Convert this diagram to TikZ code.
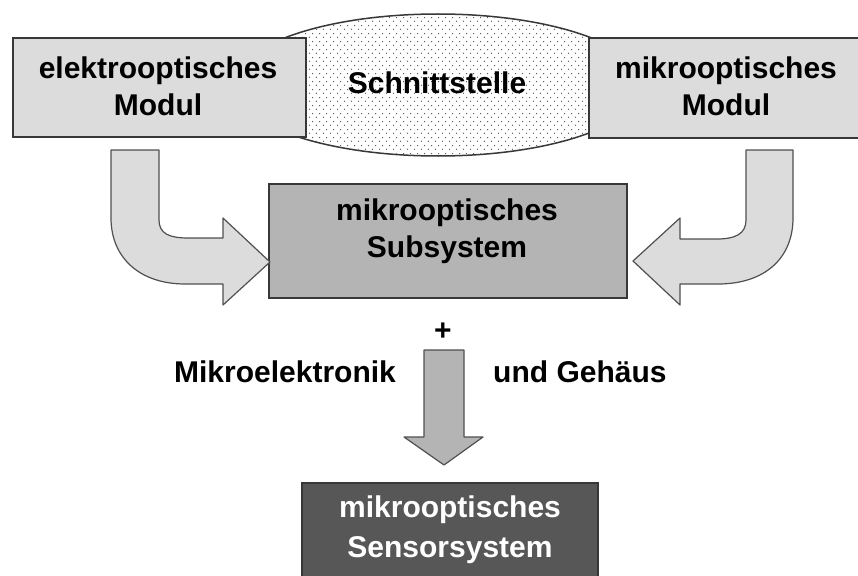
\documentclass[tikz,border=0pt]{standalone}
\usepackage{fontspec}
\setmainfont{Liberation Sans}
\usetikzlibrary{patterns,shapes.geometric}
\pgfdeclarepatternformonly{sparsedots}{\pgfqpoint{0pt}{0pt}}{\pgfqpoint{7pt}{8pt}}{\pgfqpoint{7pt}{8pt}}{%
  \pgfpathcircle{\pgfqpoint{1.75pt}{2pt}}{0.75pt}%
  \pgfpathcircle{\pgfqpoint{5.25pt}{6pt}}{0.75pt}%
  \pgfusepath{fill}}
\definecolor{lightfill}{HTML}{DCDCDC}
\definecolor{midfill}{HTML}{B4B4B4}
\definecolor{darkfill}{HTML}{575757}
\definecolor{edge}{HTML}{383838}
\definecolor{arrowedge}{HTML}{505050}
\begin{document}
\begin{tikzpicture}[x=1pt,y=-1pt,
  box/.style={draw=edge,line width=1.5pt,rectangle,inner sep=0pt},
  lbl/.style={font=\fontsize{30}{37}\selectfont\bfseries,align=center,inner sep=0pt},
  blockarrow/.style={draw=arrowedge,line width=1.2pt,line join=round},
]
\useasboundingbox (0,0) rectangle (858,575);
% interface ellipse (behind the modules)
\node[ellipse,draw=edge,line width=1.5pt,fill=white,
      minimum width=410pt,minimum height=142pt,inner sep=0pt] (iface) at (438,85) {};
\fill[pattern=sparsedots,pattern color=black!70] (iface.center) ellipse[x radius=204pt,y radius=70pt];
% modules
\node[box,fill=lightfill,minimum width=293pt,minimum height=99pt] (em) at (159.5,87.5) {};
\draw[edge,line width=1.5pt,fill=lightfill] (589,38) -- (862,38) -- (862,138) -- (589,138) -- cycle;
\node[lbl] (emt) at (158,86) {elektrooptisches\\Modul};
\node[lbl] (mmt) at (726,86) {mikrooptisches\\Modul};
\node[lbl] (ifacet) at (437,83) {Schnittstelle};
% subsystem
\node[box,fill=midfill,minimum width=358pt,minimum height=114pt] (sub) at (448,241) {};
\node[lbl] (subt) at (447,231) {mikrooptisches\\Subsystem};
% curved arrows
\filldraw[blockarrow,fill=lightfill] (111,150) -- (159,150) -- (159,220)
  .. controls (159,234) and (170,238) .. (188,238) -- (223,238) -- (223,218)
  -- (270,262) -- (223,305) -- (223,284) -- (185,284)
  .. controls (140,284) and (111,258) .. (111,218) -- cycle;
\filldraw[blockarrow,fill=lightfill] (793,150) -- (746,150) -- (746,220)
  .. controls (746,234) and (735,239) .. (717,239) -- (680,239) -- (680,218)
  -- (633,261) -- (680,305) -- (680,284) -- (718,284)
  .. controls (765,284) and (793,258) .. (793,218) -- cycle;
% plus and down arrow
\node[lbl] (plus) at (443,332) {+};
\filldraw[blockarrow,fill=midfill] (424,350) -- (464,350) -- (464,437) -- (483,437)
  -- (444,465) -- (404,437) -- (424,437) -- cycle;
\node[lbl] (mel) at (285,372) {Mikroelektronik};
\node[lbl,anchor=west] (geh) at (493,372) {und Gehäus};
% sensor system
\draw[edge,line width=1.5pt,fill=darkfill] (302,483) -- (598,483) -- (598,580) -- (302,580) -- cycle;
\node[lbl,text=white,font=\fontsize{30}{40}\selectfont\bfseries] (sens) at (450,530) {mikrooptisches\\Sensorsystem};
\end{tikzpicture}
\end{document}
